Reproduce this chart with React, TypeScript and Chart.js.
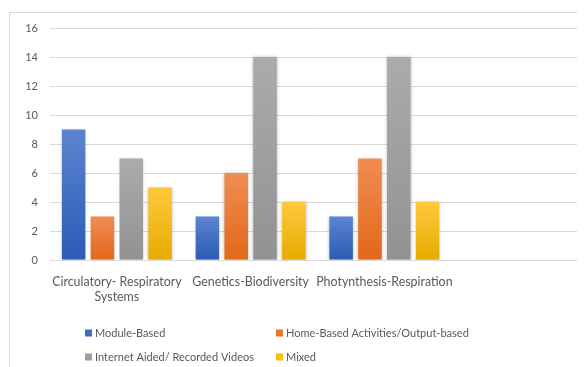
import React, { useEffect, useRef } from "react";
import { Chart, registerables } from "chart.js";

Chart.register(...registerables);

const categories: (string | string[])[] = [
  ["Circulatory- Respiratory", "Systems"],
  "Genetics-Biodiversity",
  "Photynthesis-Respiration",
  "",
];
const seriesNames = [
  "Module-Based",
  "Home-Based Activities/Output-based",
  "Internet Aided/ Recorded Videos",
  "Mixed",
];
const moduleBased = [9, 3, 3, null];
const homeBased = [3, 6, 7, null];
const internetAided = [7, 14, 14, null];
const mixed = [5, 4, 4, null];
const yTicks = [0, 2, 4, 6, 8, 10, 12, 14, 16];

const solid = ["#3F6BC3", "#EB7427", "#9E9E9E", "#F9BD0B"];
const gradTop = ["#5C85D0", "#F18D52", "#ABABAB", "#FFC83C"];
const gradBot = ["#2B5BB6", "#E2671A", "#929292", "#E6AC00"];

const FONT = "Lato, 'Liberation Sans', sans-serif";
const TEXT = "#595959";

function gradient(i: number) {
  return (ctx: any) => {
    const chart = ctx.chart;
    const area = chart.chartArea;
    if (!area || ctx.raw == null) return solid[i];
    const y = chart.scales.y;
    const top = y.getPixelForValue(ctx.raw);
    const bot = y.getPixelForValue(0);
    if (!isFinite(top) || Math.abs(bot - top) < 1) return solid[i];
    const g = chart.ctx.createLinearGradient(0, top, 0, bot);
    g.addColorStop(0, gradTop[i]);
    g.addColorStop(1, gradBot[i]);
    return g;
  };
}

const framePlugin = {
  id: "frame",
  beforeDraw(chart: any) {
    const c = chart.ctx;
    c.save();
    c.fillStyle = "#ffffff";
    c.fillRect(0, 0, chart.width, chart.height);
    c.strokeStyle = "#D9D9D9";
    c.lineWidth = 1;
    c.strokeRect(9.5, 12.5, chart.width + 20, chart.height + 20);
    c.restore();
  },
};

const shadowPlugin = {
  id: "barShadow",
  beforeDatasetsDraw(chart: any) {
    const c = chart.ctx;
    c.save();
    c.shadowColor = "rgba(0,0,0,0.28)";
    c.shadowBlur = 3;
    c.shadowOffsetX = 0;
    c.shadowOffsetY = 0;
  },
  afterDatasetsDraw(chart: any) {
    chart.ctx.restore();
  },
};

const legendPlugin = {
  id: "gridLegend",
  afterDraw(chart: any) {
    const c = chart.ctx;
    const cols = [85, 276];
    const rows = [333, 357];
    c.save();
    c.font = "11px " + FONT;
    c.textBaseline = "middle";
    c.textAlign = "left";
    chart.data.datasets.forEach((ds: any, i: number) => {
      const x = cols[i % 2];
      const y = rows[Math.floor(i / 2)];
      c.fillStyle = solid[i];
      c.fillRect(x, y - 3.5, 7, 7);
      c.fillStyle = TEXT;
      c.fillText(ds.label, x + 10, y + 0.5);
    });
    c.restore();
  },
};

export default function App() {
  const ref = useRef<HTMLCanvasElement | null>(null);
  useEffect(() => {
    if (!ref.current) return;
    const seriesData = [moduleBased, homeBased, internetAided, mixed];
    const chart = new Chart(ref.current, {
      type: "bar",
      data: {
        labels: categories,
        datasets: seriesData.map((d, i) => ({
          label: seriesNames[i],
          data: d,
          backgroundColor: gradient(i),
          borderWidth: 0,
          categoryPercentage: 0.862,
          barPercentage: 0.815,
        })),
      },
      options: {
        animation: false,
        responsive: false,
        maintainAspectRatio: false,
        layout: { padding: { top: 28, right: 0, left: 0, bottom: 0 } },
        plugins: { legend: { display: false }, tooltip: { enabled: false } },
        scales: {
          x: {
            grid: { display: false, drawTicks: false },
            border: { display: false },
            ticks: {
              autoSkip: false,
              maxRotation: 0,
              minRotation: 0,
              padding: 14,
              color: TEXT,
              font: { family: FONT, size: 12.4, lineHeight: 1.21 },
            },
            afterFit: (s: any) => {
              s.height = 107;
            },
          },
          y: {
            min: 0,
            max: 16,
            afterBuildTicks: (s: any) => {
              s.ticks = yTicks.map((v) => ({ value: v }));
            },
            grid: { color: "#D9D9D9", lineWidth: 1, drawTicks: false },
            border: { display: false },
            ticks: {
              padding: 12,
              color: TEXT,
              font: { family: FONT, size: 11 },
            },
            afterFit: (s: any) => {
              s.width = 50;
            },
          },
        },
      },
      plugins: [framePlugin, shadowPlugin, legendPlugin],
    });
    return () => chart.destroy();
  }, []);
  return (
    <div style={{ marginLeft: -8, marginTop: -8, width: 585, height: 367 }}>
      <canvas ref={ref} width={585} height={367} style={{ display: "block", width: 585, height: 367 }} />
    </div>
  );
}
